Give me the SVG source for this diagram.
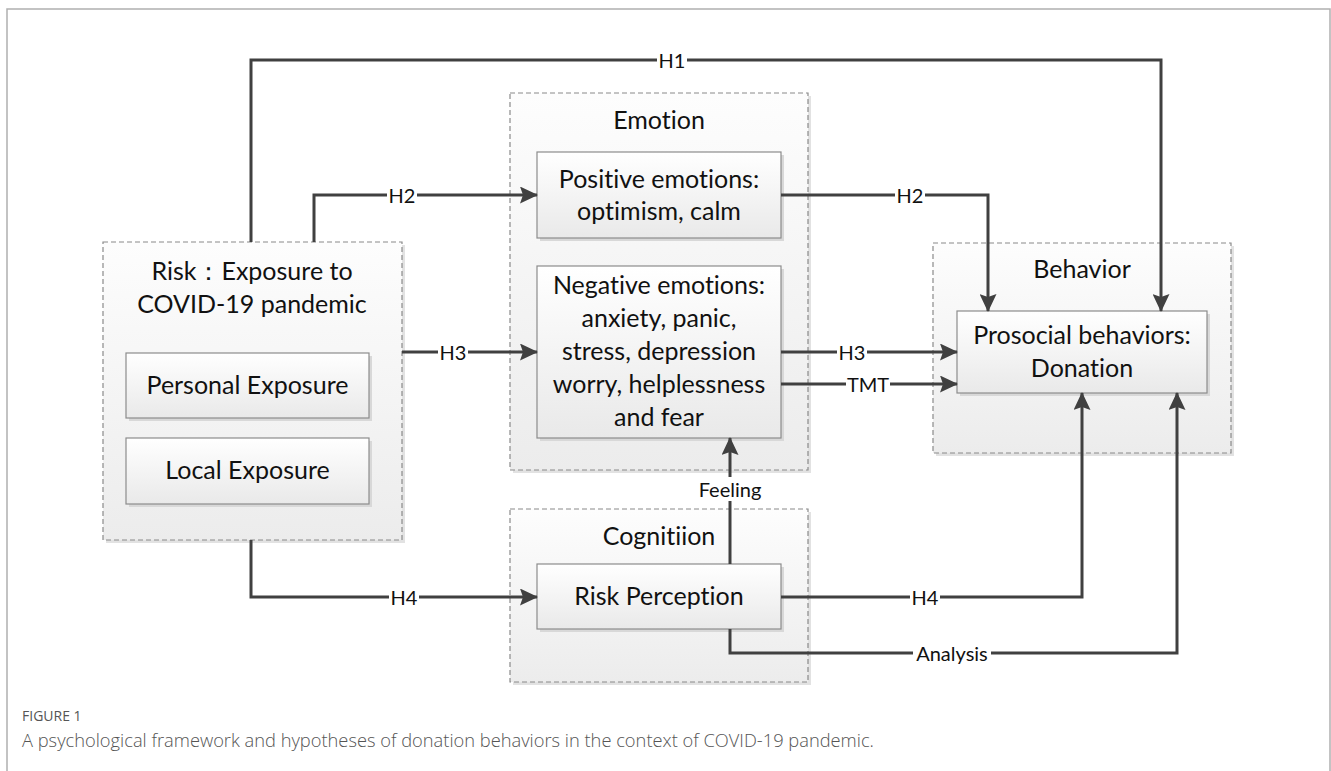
<svg xmlns="http://www.w3.org/2000/svg" width="1331" height="771" viewBox="0 0 1331 771">
<defs>
<linearGradient id="gGroup" x1="0" y1="0" x2="0" y2="1">
<stop offset="0" stop-color="#fdfdfd"/>
<stop offset="1" stop-color="#ececec"/>
</linearGradient>
<linearGradient id="gBox" x1="0" y1="0" x2="0" y2="1">
<stop offset="0" stop-color="#ffffff"/>
<stop offset="1" stop-color="#e9e9e9"/>
</linearGradient>
<marker id="arr" viewBox="0 0 18 17" refX="17" refY="8.5" markerWidth="18" markerHeight="17" markerUnits="userSpaceOnUse" orient="auto">
<path d="M0,0 L18,8.5 L0,17 L3,8.5 z" fill="#404040"/>
</marker>
</defs>
<style>
.frame{fill:none;stroke:#b0b0b0;stroke-width:1.5}
.grp{fill:url(#gGroup);stroke:#8a8a8a;stroke-width:1.2;stroke-dasharray:5,3}
.gshadow{fill:#e2e2e2}
.box{fill:url(#gBox);stroke:#8c8c8c;stroke-width:1.2}
.bshadow{fill:#d8d8d8}
.t{font-family:Lato,"Open Sans",sans-serif;font-size:25px;fill:#111;text-anchor:middle;font-variant-ligatures:none}
.conn{fill:none;stroke:#404040;stroke-width:3}
.lbl{font-family:Lato,"Open Sans",sans-serif;font-size:20px;fill:#111;text-anchor:middle;dominant-baseline:central}
.lblbg{fill:#ffffff}
.cap1{font-family:"Open Sans",sans-serif;font-size:14px;fill:#555;font-weight:400}
.cap2{font-family:"Open Sans",sans-serif;font-size:18.3px;fill:#555;font-weight:300}
</style>
<rect width="1331" height="771" fill="#ffffff"/>
<path class="frame" d="M7,771 V9 H1330 V771"/>

<g id="risk">
<rect class="gshadow" x="106" y="245" width="299" height="298"/>
<rect class="grp" x="103" y="242" width="299" height="298"/>
<text class="t" x="252" y="280">Risk：Exposure to</text>
<text class="t" x="252" y="313">COVID-19 pandemic</text>
</g>
<g id="personal">
<rect class="bshadow" x="129" y="356" width="243" height="65"/>
<rect class="box" x="126" y="353" width="243" height="65"/>
<text class="t" x="247.5" y="394">Personal Exposure</text>
</g>
<g id="local">
<rect class="bshadow" x="129" y="441" width="243" height="66"/>
<rect class="box" x="126" y="438" width="243" height="66"/>
<text class="t" x="247.5" y="479">Local Exposure</text>
</g>

<g id="emotion">
<rect class="gshadow" x="513" y="96" width="298" height="377"/>
<rect class="grp" x="510" y="93" width="298" height="377"/>
<text class="t" x="659" y="129">Emotion</text>
</g>
<g id="positive">
<rect class="bshadow" x="540" y="155" width="244" height="86"/>
<rect class="box" x="537" y="152" width="244" height="86"/>
<text class="t" x="659" y="188">Positive emotions:</text>
<text class="t" x="659" y="220">optimism, calm</text>
</g>
<g id="negative">
<rect class="bshadow" x="540" y="269" width="244" height="172"/>
<rect class="box" x="537" y="266" width="244" height="172"/>
<text class="t" x="659" y="294">Negative emotions:</text>
<text class="t" x="659" y="327">anxiety, panic,</text>
<text class="t" x="659" y="360">stress, depression</text>
<text class="t" x="659" y="393">worry, helplessness</text>
<text class="t" x="659" y="426">and fear</text>
</g>

<g id="behavior">
<rect class="gshadow" x="936" y="246" width="298" height="210"/>
<rect class="grp" x="933" y="243" width="298" height="210"/>
<text class="t" x="1082" y="278">Behavior</text>
</g>
<g id="prosocial">
<rect class="bshadow" x="960" y="314" width="250" height="82"/>
<rect class="box" x="957" y="311" width="250" height="82"/>
<text class="t" x="1082" y="344">Prosocial behaviors:</text>
<text class="t" x="1082" y="377">Donation</text>
</g>

<g id="cognition">
<rect class="gshadow" x="513" y="512" width="298" height="173"/>
<rect class="grp" x="510" y="509" width="298" height="173"/>
<text class="t" x="659" y="545">Cognitiion</text>
</g>
<g id="perception">
<rect class="bshadow" x="540" y="567" width="244" height="65"/>
<rect class="box" x="537" y="564" width="244" height="65"/>
<text class="t" x="659" y="605">Risk Perception</text>
</g>

<g id="connectors">
<path class="conn" d="M251,242 V60 H1161 V311" marker-end="url(#arr)"/>
<path class="conn" d="M314,242 V195 H537" marker-end="url(#arr)"/>
<path class="conn" d="M781,195 H988 V311" marker-end="url(#arr)"/>
<path class="conn" d="M402,352 H537" marker-end="url(#arr)"/>
<path class="conn" d="M781,352 H957" marker-end="url(#arr)"/>
<path class="conn" d="M781,384 H957" marker-end="url(#arr)"/>
<path class="conn" d="M730,564 V438" marker-end="url(#arr)"/>
<path class="conn" d="M251,540 V597 H537" marker-end="url(#arr)"/>
<path class="conn" d="M781,597 H1082 V393" marker-end="url(#arr)"/>
<path class="conn" d="M730,629 V653 H1177 V393" marker-end="url(#arr)"/>

<rect class="lblbg" x="657" y="49" width="30" height="22"/>
<text class="lbl" x="672" y="60">H1</text>
<rect class="lblbg" x="387" y="184" width="30" height="22"/>
<text class="lbl" x="402" y="195">H2</text>
<rect class="lblbg" x="895" y="184" width="30" height="22"/>
<text class="lbl" x="910" y="195">H2</text>
<rect class="lblbg" x="438" y="341" width="30" height="22"/>
<text class="lbl" x="453" y="352">H3</text>
<rect class="lblbg" x="837" y="341" width="30" height="22"/>
<text class="lbl" x="852" y="352">H3</text>
<rect class="lblbg" x="846" y="373" width="44" height="22"/>
<text class="lbl" x="868" y="384">TMT</text>
<rect class="lblbg" x="695" y="477" width="70" height="24"/>
<text class="lbl" x="730" y="489">Feeling</text>
<rect class="lblbg" x="389" y="586" width="30" height="22"/>
<text class="lbl" x="404" y="597">H4</text>
<rect class="lblbg" x="910" y="586" width="30" height="22"/>
<text class="lbl" x="925" y="597">H4</text>
<rect class="lblbg" x="913" y="642" width="78" height="22"/>
<text class="lbl" x="952" y="653">Analysis</text>
</g>

<text class="cap1" x="22" y="721">FIGURE 1</text>
<text class="cap2" x="22" y="747">A psychological framework and hypotheses of donation behaviors in the context of COVID-19 pandemic.</text>
</svg>
